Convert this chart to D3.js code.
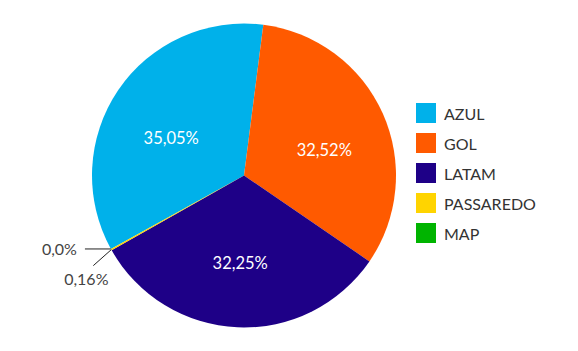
<!DOCTYPE html>
<html>
<head>
<meta charset="utf-8">
<script src="https://cdn.jsdelivr.net/npm/d3@7"></script>
<style>
  body { margin: 0; background: #fff; }
  svg text { font-family: Lato, "Open Sans", sans-serif; }
</style>
</head>
<body>
<div id="chart"></div>
<script>
let airlines = ["AZUL", "GOL", "LATAM", "PASSAREDO", "MAP"];
let shares = [35.05, 32.52, 32.25, 0.16, 0.0];
let shareLabels = ["35,05%", "32,52%", "32,25%", "0,16%", "0,0%"];
let colors = ["#00b1ea", "#ff5a00", "#1e0087", "#ffd400", "#00b400"];

let width = 578, height = 351;
let cx = 244, cy = 175.5, radius = 152;

let svg = d3.select("#chart")
            .append("svg")
                .attr("width", width)
                .attr("height", height);

let pieData = airlines.map((a, i) => ({"name": a, "val": shares[i], "label": shareLabels[i], "color": colors[i]}));

let deg = Math.PI / 180;
let pie = d3.pie()
            .sort(null)
            .value(d => d["val"])
            .startAngle(-118.9 * deg)
            .endAngle(241.1 * deg);

let arc = d3.arc().innerRadius(0).outerRadius(radius);

let g = svg.append("g")
            .attr("transform", "translate(" + cx + "," + cy + ")");

let arcs = pie(pieData);

g.selectAll("path.slice")
    .data(arcs)
    .join("path")
    .attr("class", "slice")
    .attr("d", arc)
    .attr("fill", d => d.data["color"]);

// big labels inside slices
let bigArcs = arcs.filter(d => d.data["val"] > 5);
g.selectAll("text.inner")
    .data(bigArcs)
    .join("text")
    .attr("class", "inner")
    .attr("text-anchor", "middle")
    .attr("dominant-baseline", "central")
    .attr("x", d => Math.sin((d.startAngle + d.endAngle) / 2) * 88)
    .attr("y", d => -Math.cos((d.startAngle + d.endAngle) / 2) * 80 + 7.5)
    .attr("fill", "#fff")
    .style("font-size", "16.5px")
    .text(d => d.data["label"]);

// small slices get leader lines
let small = arcs.filter(d => d.data["val"] <= 5);
small.forEach(d => {
    let a = (d.startAngle + d.endAngle) / 2;
    let px = Math.sin(a) * radius, py = -Math.cos(a) * radius;
    if (d.data["val"] === 0) {
        g.append("line")
            .attr("x1", px).attr("y1", py)
            .attr("x2", px - 26).attr("y2", py)
            .attr("stroke", "#222").attr("stroke-width", 1);
        g.append("text")
            .attr("x", px - 34).attr("y", py)
            .attr("text-anchor", "end")
            .attr("dominant-baseline", "central")
            .attr("fill", "#444")
            .style("font-size", "16px")
            .text(d.data["label"]);
    } else {
        g.append("line")
            .attr("x1", px).attr("y1", py)
            .attr("x2", px - 18).attr("y2", py + 16)
            .attr("stroke", "#222").attr("stroke-width", 1);
        g.append("text")
            .attr("x", px - 25).attr("y", py + 29)
            .attr("text-anchor", "middle")
            .attr("dominant-baseline", "central")
            .attr("fill", "#444")
            .style("font-size", "16px")
            .text(d.data["label"]);
    }
});

// legend
let legend = svg.append("g")
                .attr("transform", "translate(416,103)");

let rows = legend.selectAll("g")
    .data(pieData)
    .join("g")
    .attr("transform", (d, i) => "translate(0," + i * 30 + ")");

rows.append("rect")
    .attr("width", 20)
    .attr("height", 20)
    .attr("fill", d => d["color"]);

rows.append("text")
    .attr("x", 28)
    .attr("y", 10)
    .attr("dominant-baseline", "central")
    .attr("fill", "#333")
    .style("font-size", "16px")
    .text(d => d["name"]);
</script>
</body>
</html>
